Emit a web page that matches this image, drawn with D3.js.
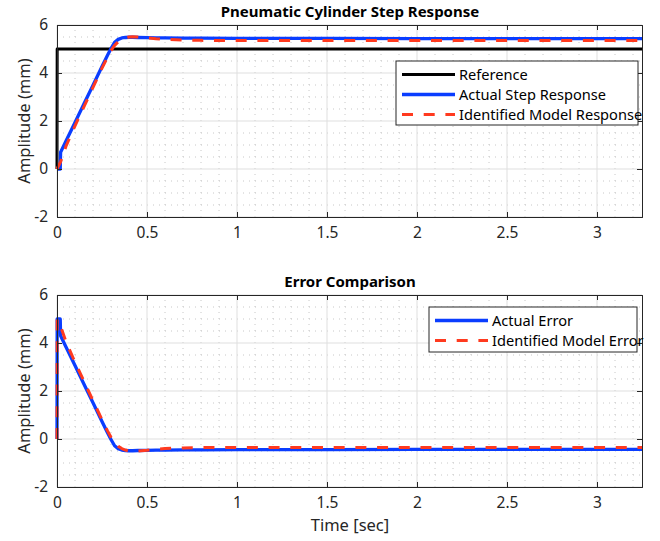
<!DOCTYPE html>
<html>
<head>
<meta charset="utf-8">
<script src="https://cdn.jsdelivr.net/npm/d3@7"></script>
<style>
  body { margin: 0; background: #fff; }
  text { font-family: "Noto Sans", "Open Sans", sans-serif; fill: #262626; }
</style>
</head>
<body>
<div id="dataViz"></div>
<script>
/* sample times (sec) shared by all series */
const time = [0, 0.001, 0.018, 0.02, 0.05, 0.1, 0.15, 0.2, 0.25, 0.28, 0.3, 0.32, 0.34, 0.36, 0.38,
              0.4, 0.42, 0.45, 0.5, 0.55, 0.6, 0.7, 0.8, 1.0, 1.5, 2.0, 2.5, 3.0, 3.25];

/* top plot series (mm) */
const reference = [0, 5, 5, 5, 5, 5, 5, 5, 5, 5, 5, 5, 5, 5, 5,
                   5, 5, 5, 5, 5, 5, 5, 5, 5, 5, 5, 5, 5, 5];
const actualResp = [0, 0, 0, 0.7, 1.17, 1.94, 2.72, 3.49, 4.27, 4.73, 5.02, 5.28, 5.40, 5.46, 5.48,
                    5.49, 5.49, 5.48, 5.47, 5.46, 5.46, 5.45, 5.45, 5.44, 5.44, 5.43, 5.43, 5.43, 5.43];
const modelResp = [0, 0.02, 0.27, 0.3, 0.95, 1.8, 2.6, 3.4, 4.2, 4.65, 4.93, 5.15, 5.3, 5.4, 5.46,
                   5.5, 5.51, 5.5, 5.47, 5.43, 5.4, 5.37, 5.36, 5.35, 5.35, 5.35, 5.35, 5.35, 5.35];

/* bottom plot series (mm) */
const actualErr = [0, 5, 5, 4.3, 3.83, 3.06, 2.28, 1.51, 0.73, 0.27, -0.02, -0.28, -0.40, -0.46, -0.48,
                   -0.49, -0.49, -0.48, -0.47, -0.46, -0.46, -0.45, -0.45, -0.44, -0.44, -0.43, -0.43, -0.43, -0.43];
const modelErr = [0, 4.98, 4.73, 4.7, 4.05, 3.2, 2.4, 1.6, 0.8, 0.35, 0.07, -0.15, -0.3, -0.4, -0.46,
                  -0.5, -0.51, -0.5, -0.47, -0.43, -0.4, -0.37, -0.36, -0.35, -0.35, -0.35, -0.35, -0.35, -0.35];

/* ticks */
const xTicks = [0, 0.5, 1, 1.5, 2, 2.5, 3];
const yTicks = [-2, 0, 2, 4, 6];
const xMinor = d3.range(0, 3.25, 0.1).filter(v => Math.abs(v * 2 - Math.round(v * 2)) > 1e-6);
const yMinor = [-1.5, -1, -0.5, 0.5, 1, 1.5, 2.5, 3, 3.5, 4.5, 5, 5.5];

const width = 660, height = 541;
const svg = d3.select("#dataViz").append("svg")
    .attr("width", width).attr("height", height);

const x = d3.scaleLinear().domain([0, 3.25]).range([57, 642]);
// plain hyphen for negatives, like the original
const fmt = d => String(d);

function drawPanel(top, title, series, legendBox) {
    const y = d3.scaleLinear().domain([-2, 6]).range([top + 192, top]);
    const g = svg.append("g");

    /* minor grid */
    g.selectAll(null).data(xMinor).enter().append("line")
        .attr("x1", d => x(d)).attr("x2", d => x(d))
        .attr("y1", y(-2)).attr("y2", y(6))
        .attr("stroke", "#c8c8c8").attr("stroke-width", 1).attr("stroke-dasharray", "1,5");
    g.selectAll(null).data(yMinor).enter().append("line")
        .attr("x1", x(0)).attr("x2", x(3.25))
        .attr("y1", d => y(d)).attr("y2", d => y(d))
        .attr("stroke", "#c8c8c8").attr("stroke-width", 1).attr("stroke-dasharray", "1,5");

    /* major grid */
    g.selectAll(null).data(xTicks).enter().append("line")
        .attr("x1", d => x(d)).attr("x2", d => x(d))
        .attr("y1", y(-2)).attr("y2", y(6))
        .attr("stroke", "#dfdfdf").attr("stroke-width", 1);
    g.selectAll(null).data(yTicks).enter().append("line")
        .attr("x1", x(0)).attr("x2", x(3.25))
        .attr("y1", d => y(d)).attr("y2", d => y(d))
        .attr("stroke", "#dfdfdf").attr("stroke-width", 1);

    /* data lines */
    const clipId = "clip" + top;
    svg.append("clipPath").attr("id", clipId).append("rect")
        .attr("x", x(0) - 3).attr("y", y(6)).attr("width", x(3.25) - x(0) + 3).attr("height", y(-2) - y(6));
    const lines = g.append("g").attr("clip-path", `url(#${clipId})`);
    series.forEach(s => {
        const line = d3.line().x((d, i) => x(time[i])).y(d => y(d));
        lines.append("path").datum(s.values)
            .attr("d", line)
            .attr("fill", "none")
            .attr("stroke", s.color)
            .attr("stroke-width", s.width)
            .attr("stroke-linejoin", "round")
            .attr("stroke-dasharray", s.dash || null);
    });

    /* axes: ticks inside on all sides */
    const axB = g.append("g").attr("transform", `translate(0,${y(-2)})`)
        .call(d3.axisBottom(x).tickValues(xTicks).tickSize(-5).tickPadding(10).tickFormat(fmt));
    const axT = g.append("g").attr("transform", `translate(0,${y(6)})`)
        .call(d3.axisTop(x).tickValues(xTicks).tickSize(-5).tickFormat(""));
    const axL = g.append("g").attr("transform", `translate(${x(0)},0)`)
        .call(d3.axisLeft(y).tickValues(yTicks).tickSize(-5).tickPadding(9).tickFormat(fmt));
    const axR = g.append("g").attr("transform", `translate(${x(3.25)},0)`)
        .call(d3.axisRight(y).tickValues(yTicks).tickSize(-5).tickFormat(""));
    [axB, axT, axL, axR].forEach(a => {
        a.select(".domain").attr("stroke", "#262626").attr("stroke-width", 1);
        a.selectAll(".tick line").attr("stroke", "#262626");
        a.selectAll(".tick text").attr("font-size", 15.5).attr("fill", "#262626")
            .style("font-family", "'Noto Sans', sans-serif");
    });
    axB.selectAll(".tick text").attr("dy", "0.71em");

    /* title and y label */
    g.append("text").attr("x", 350).attr("y", top - 8)
        .attr("text-anchor", "middle").attr("font-size", 15).attr("font-weight", "bold")
        .attr("fill", "#000").style("fill", "#000").text(title);
    g.append("text").attr("transform", `translate(30,${top + 96}) rotate(-90)`)
        .attr("text-anchor", "middle").attr("font-size", 16.5).text("Amplitude (mm)");

    /* legend */
    const lg = g.append("g");
    lg.append("rect").attr("x", legendBox.x).attr("y", legendBox.y)
        .attr("width", legendBox.w).attr("height", series.length === 3 ? 64 : 45)
        .attr("fill", "#fff").attr("stroke", "#262626").attr("stroke-width", 1);
    series.forEach((s, i) => {
        const ly = legendBox.y + 13.5 + i * 20;
        lg.append("line")
            .attr("x1", legendBox.x + 6).attr("x2", legendBox.x + 59)
            .attr("y1", ly).attr("y2", ly)
            .attr("stroke", s.color).attr("stroke-width", s.width)
            .attr("stroke-dasharray", s.dash || null);
        lg.append("text").attr("x", legendBox.x + 63).attr("y", ly + 5)
            .attr("font-size", 14.6).attr("fill", "#000").style("fill", "#000").text(s.name);
    });
}

drawPanel(25, "Pneumatic Cylinder Step Response", [
    { name: "Reference", values: reference, color: "#000000", width: 3 },
    { name: "Actual Step Response", values: actualResp, color: "#0a3dff", width: 3.3 },
    { name: "Identified Model Response", values: modelResp, color: "#ff3a1f", width: 3, dash: "11,10.7" }
], { x: 396, y: 61, w: 242 });

drawPanel(295, "Error Comparison", [
    { name: "Actual Error", values: actualErr, color: "#0a3dff", width: 3.3 },
    { name: "Identified Model Error", values: modelErr, color: "#ff3a1f", width: 3, dash: "11,10.7" }
], { x: 429, y: 307, w: 208 });

svg.append("text").attr("x", 350).attr("y", 531)
    .attr("text-anchor", "middle").attr("font-size", 16.5).text("Time [sec]");
</script>
</body>
</html>
